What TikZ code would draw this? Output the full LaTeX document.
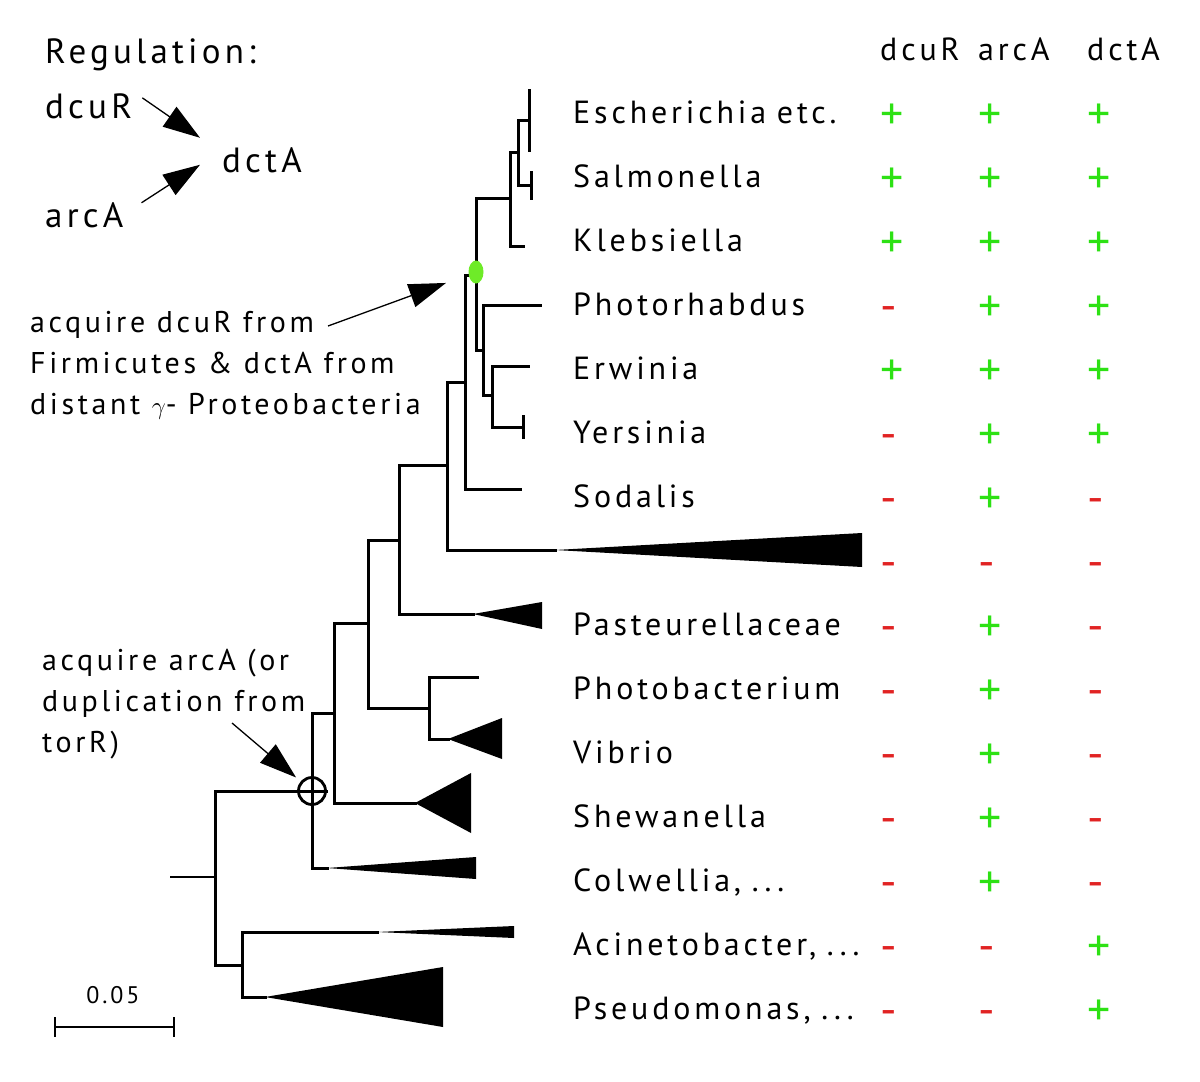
\documentclass[tikz,border=0pt]{standalone}
\usepackage{fontspec}
\setmainfont{PT Sans}[LetterSpace=12]
\usetikzlibrary{arrows.meta,shapes.geometric}

\definecolor{plusgreen}{RGB}{45,225,20}
\definecolor{minusred}{RGB}{225,35,35}
\definecolor{gaingreen}{RGB}{110,235,40}

\tikzstyle{branch} = [line width=3pt, line cap=rect]
\tikzstyle{clade} = [fill=black]
\tikzstyle{rowtext} = [inner sep=0pt, font=\fontsize{32}{36}\selectfont,
    text height=23pt, text depth=8pt]
\tikzstyle{taxon} = [rowtext, text width=300pt, align=left]
\tikzstyle{regsign} = [inner sep=0pt, anchor=base west, yshift=-6pt,
    font=\fontsize{46}{50}\selectfont]
\tikzstyle{present} = [regsign, text=plusgreen, node contents=+]
\tikzstyle{absent} = [regsign, text=minusred, node contents=-]
\tikzstyle{reg} = [inner sep=0pt, anchor=base west, font=\fontsize{35}{40}\selectfont]
\tikzstyle{note} = [inner sep=0pt, anchor=north west, align=left,
    font=\fontsize{30}{41}\selectfont]
\tikzstyle{bigarrow} = [line width=1.3pt, -{Triangle[length=37pt,width=24pt]}]
\tikzstyle{dupmark} = [circle, draw, line width=2.8pt, minimum size=27pt, inner sep=0pt]
\tikzstyle{gainmark} = [ellipse, fill=gaingreen, minimum width=15pt,
    minimum height=23pt, inner sep=0pt]

% one row of the regulation table
\newcommand{\regrow}[4]{%
  \node[name=#1-dcuR, at={(hdcuR.west |- #1.base)}, #2];
  \node[name=#1-arcA, at={(harcA.west |- #1.base)}, #3];
  \node[name=#1-dctA, at={(hdctA.west |- #1.base)}, #4];
}

\begin{document}
\begin{tikzpicture}[x=1pt,y=-1pt,node distance=64pt]
  \useasboundingbox (0,0) rectangle (1200,1082);

  % regulation scheme
  \node[reg] (regtitle) at (45,63) {Regulation:};
  \node[reg] (dcuR) at (45,118) {dcuR};
  \node[reg] (dctA) at (222,172) {dctA};
  \node[reg] (arcA) at (45,227) {arcA};
  \draw[bigarrow] ([xshift=10pt,yshift=8pt]dcuR.east) -- ([xshift=-22pt,yshift=22pt]dctA.west);
  \draw[bigarrow] ([xshift=18pt,yshift=12pt]arcA.east) -- ([xshift=-22pt,yshift=-5pt]dctA.west);

  % table header
  \node[rowtext, anchor=base west] (hdcuR) at (880,60) {dcuR};
  \node[rowtext, anchor=base west] (harcA) at (978,60) {arcA};
  \node[rowtext, anchor=base west] (hdctA) at (1087,60) {dctA};

  % taxa
  \node[taxon, anchor=base west] (Escherichia) at (573,123) {Escherichia etc.};
  \node[taxon] (Salmonella) [below of=Escherichia] {Salmonella};
  \node[taxon] (Klebsiella) [below of=Salmonella] {Klebsiella};
  \node[taxon] (Photorhabdus) [below of=Klebsiella] {Photorhabdus};
  \node[taxon] (Erwinia) [below of=Photorhabdus] {Erwinia};
  \node[taxon] (Yersinia) [below of=Erwinia] {Yersinia};
  \node[taxon] (Sodalis) [below of=Yersinia] {Sodalis};
  \node[taxon] (unnamed) [below of=Sodalis] {};
  \node[taxon] (Pasteurellaceae) [below of=unnamed] {Pasteurellaceae};
  \node[taxon] (Photobacterium) [below of=Pasteurellaceae] {Photobacterium};
  \node[taxon] (Vibrio) [below of=Photobacterium] {Vibrio};
  \node[taxon] (Shewanella) [below of=Vibrio] {Shewanella};
  \node[taxon] (Colwellia) [below of=Shewanella] {Colwellia, ...};
  \node[taxon] (Acinetobacter) [below of=Colwellia] {Acinetobacter, ...};
  \node[taxon] (Pseudomonas) [below of=Acinetobacter] {Pseudomonas, ...};

  \regrow{Escherichia}{present}{present}{present}
  \regrow{Salmonella}{present}{present}{present}
  \regrow{Klebsiella}{present}{present}{present}
  \regrow{Photorhabdus}{absent}{present}{present}
  \regrow{Erwinia}{present}{present}{present}
  \regrow{Yersinia}{absent}{present}{present}
  \regrow{Sodalis}{absent}{present}{absent}
  \regrow{unnamed}{absent}{absent}{absent}
  \regrow{Pasteurellaceae}{absent}{present}{absent}
  \regrow{Photobacterium}{absent}{present}{absent}
  \regrow{Vibrio}{absent}{present}{absent}
  \regrow{Shewanella}{absent}{present}{absent}
  \regrow{Colwellia}{absent}{present}{absent}
  \regrow{Acinetobacter}{absent}{absent}{present}
  \regrow{Pseudomonas}{absent}{absent}{present}

  % tree nodes
  \coordinate (root0) at (170,877);
  \coordinate (root) at (215,877);
  \node[dupmark] (dup) at (312,791) {};
  \coordinate (acipse) at (242,965);
  \coordinate (aci) at (377,932);
  \coordinate (pse) at (265,997);
  \coordinate (col) at (327,868);
  \coordinate (B) at (334,713);
  \coordinate (she) at (415,803);
  \coordinate (C) at (368,623);
  \coordinate (D) at (429,708);
  \coordinate (pbac) at (477,677);
  \coordinate (vib) at (448,739);
  \coordinate (E) at (399,540);
  \coordinate (pas) at (473,614);
  \coordinate (F) at (447,465);
  \coordinate (oth) at (555,550);
  \coordinate (G) at (465,382);
  \coordinate (sod) at (520,489);
  \coordinate (H) at (476,275);
  \coordinate (I) at (510,198);
  \coordinate (J) at (483,350);
  \coordinate (K) at (518,152);
  \coordinate (kle) at (523,246);
  \coordinate (esc) at (529,120);
  \coordinate (sal) at (531,185);
  \coordinate (pho) at (540,305);
  \coordinate (L) at (492,395);
  \coordinate (erw) at (528,366);
  \coordinate (yer) at (523,427);

  \draw[line width=1.6pt] (root0) -- (root);
  \draw[branch] (root) |- (dup.east)
        (root) |- (acipse)
        (acipse) |- (aci)
        (acipse) |- (pse)
        (dup.center) |- (B)
        (dup.center) |- (col)
        (B) |- (C)
        (B) |- (she)
        (C) |- (E)
        (C) |- (D)
        (D) |- (pbac)
        (D) |- (vib)
        (E) |- (F)
        (E) |- (pas)
        (F) |- (G)
        (F) |- (oth)
        (G) |- (H)
        (G) |- (sod)
        (H) |- (I)
        (H) |- (J)
        (I) |- (K)
        (I) |- (kle)
        (K) |- (esc)
        (K) |- (sal)
        (J) |- (pho)
        (J) |- (L)
        (L) |- (erw)
        (L) |- (yer);
  \draw[branch] (esc) ++(0,-30) -- ++(0,60)
        (sal) ++(0,-13) -- ++(0,26)
        (yer) ++(0,-11) -- ++(0,21);

  % collapsed clades
  \fill[clade] (aci) -- (514,926) -- (514,938) -- cycle;
  \fill[clade] (pse) -- (443,967) -- (443,1027) -- cycle;
  \fill[clade] (col) -- (476,857) -- (476,879) -- cycle;
  \fill[clade] (she) -- (471,773) -- (471,833) -- cycle;
  \fill[clade] (vib) -- (502,718) -- (502,759) -- cycle;
  \fill[clade] (pas) -- (542,602) -- (542,629) -- cycle;
  \fill[clade] (oth) -- (862,533) -- (862,567) -- cycle;

  \node[gainmark] (gain) at (476,272) {};

  % events
  \node[note] (gainnote) at (30,311) {acquire dcuR from\\Firmicutes \& dctA from\\distant $\gamma$- Proteobacteria};
  \draw[bigarrow, shorten >=24pt] ([xshift=298pt,yshift=-15pt]gainnote.north west) -- (gain);
  \node[note] (dupnote) at (42,649) {acquire arcA (or\\duplication from\\torR)};
  \draw[bigarrow, shorten >=6pt] ([xshift=190pt,yshift=-74pt]dupnote.north west) -- (dup);

  % scale bar
  \coordinate (sbL) at (55,1027);
  \coordinate (sbR) at (174,1027);
  \draw[line width=2pt] (sbL) -- (sbR)
        (sbL) ++(0,-10) -- ++(0,20)
        (sbR) ++(0,-10) -- ++(0,20);
  \node[inner sep=0pt, anchor=base, font=\fontsize{24}{28}\selectfont] (sblabel) at (113,1003) {0.05};
\end{tikzpicture}
\end{document}
